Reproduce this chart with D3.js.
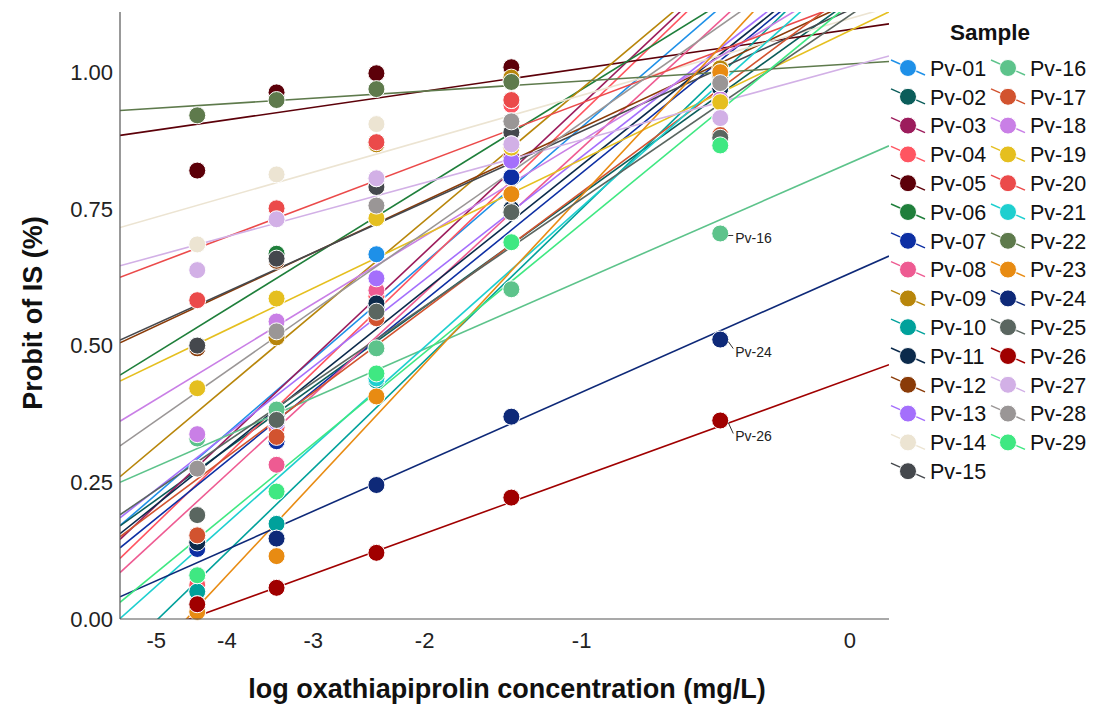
<!DOCTYPE html>
<html>
<head>
<meta charset="utf-8">
<script src="https://cdn.jsdelivr.net/npm/d3@7"></script>
<style>
  body { margin: 0; background: #fff; }
  text { font-family: "Liberation Sans", Arial, sans-serif; }
</style>
</head>
<body>
<div id="chart"></div>
<script>
// sample names and colours
const samples = ['Pv-01','Pv-02','Pv-03','Pv-04','Pv-05','Pv-06','Pv-07','Pv-08','Pv-09','Pv-10',
  'Pv-11','Pv-12','Pv-13','Pv-14','Pv-15','Pv-16','Pv-17','Pv-18','Pv-19','Pv-20',
  'Pv-21','Pv-22','Pv-23','Pv-24','Pv-25','Pv-26','Pv-27','Pv-28','Pv-29'];
const colors = ['#1e90e8','#0b5d5a','#9c1c5c','#ff5561','#5c0009','#1f7f3b','#0d2fa3','#ee5b92','#b8860b','#00a19b',
  '#0b2a4b','#8a3b08','#a46ffc','#ece4d2','#45484d','#5dc38b','#d2532f','#c97fe6','#e5bf1f','#eb4a4a',
  '#1ecfcf','#5e7a4c','#e88b12','#0e2978','#5a6660','#a00000','#d2b0e6','#9a9696','#3fe882'];

// tested concentrations (mg/L)
const concentrations = [0.00004, 0.0004, 0.004, 0.04, 0.4];

// observed probit values, one row per sample, one column per concentration
const probitValues = [
  [0.13, 0.36, 0.667, 0.808, 0.99],   // Pv-01
  [0.15, 0.37, 0.57, 0.808, 0.99],
  [0.15, 0.35, 0.58, 0.844, 0.99],
  [0.062, 0.35, 0.59, 0.94, 1.00],
  [0.82, 0.963, 0.998, 1.009, 1.00],  // Pv-05
  [0.50, 0.668, 0.872, 0.949, 1.00],
  [0.128, 0.325, 0.57, 0.808, 0.99],
  [0.142, 0.282, 0.601, 0.777, 0.99],
  [0.142, 0.515, 0.868, 0.99, 1.007],
  [0.05, 0.174, 0.436, 0.744, 0.97],  // Pv-10
  [0.14, 0.36, 0.577, 0.75, 0.97],
  [0.495, 0.655, 0.79, 0.89, 1.00],
  [0.153, 0.36, 0.623, 0.838, 0.99],
  [0.685, 0.813, 0.905, 0.91, 0.99],
  [0.50, 0.659, 0.79, 0.89, 0.98],    // Pv-15
  [0.33, 0.383, 0.495, 0.603, 0.705],
  [0.153, 0.333, 0.55, 0.777, 0.885],
  [0.338, 0.544, 0.806, 0.868, 0.95],
  [0.422, 0.586, 0.733, 0.862, 0.945],
  [0.583, 0.751, 0.872, 0.949, 0.98], // Pv-20
  [0.027, 0.147, 0.44, 0.744, 0.98],
  [0.921, 0.949, 0.969, 0.982, 0.995],
  [0.013, 0.115, 0.407, 0.777, 1.00],
  [0.08, 0.147, 0.245, 0.370, 0.511],
  [0.19, 0.364, 0.562, 0.744, 0.88],  // Pv-25
  [0.027, 0.057, 0.121, 0.222, 0.363],
  [0.638, 0.731, 0.806, 0.868, 0.916],
  [0.275, 0.526, 0.756, 0.910, 0.980],
  [0.08, 0.233, 0.449, 0.689, 0.866]
];

// fitted regression line: predicted value at log concentration -5 and at 0
const fitLow  = [0.228, 0.218, 0.208, 0.175, 0.894, 0.487, 0.184, 0.146, 0.316, -0.003,
  0.209, 0.536, 0.237, 0.735, 0.540, 0.279, 0.200, 0.402, 0.467, 0.650,
  0.060, 0.934, -0.059, 0.070, 0.236, -0.022, 0.664, 0.363, 0.085];
const fitHigh = [1.323, 1.130, 1.403, 1.398, 1.078, 1.272, 1.214, 1.312, 1.382, 1.225,
  1.222, 1.127, 1.229, 1.098, 1.114, 0.834, 1.147, 1.173, 1.076, 1.129,
  1.191, 1.015, 1.300, 0.632, 1.104, 0.439, 1.010, 1.251, 1.125];

// samples labelled at the highest concentration
const labelled = ['Pv-16', 'Pv-24', 'Pv-26'];

const xTicks = [-5, -4, -3, -2, -1, 0];
const yTicks = [0, 0.25, 0.5, 0.75, 1];
const xDomain = [-5.59, 0.096];
const yDomain = [0, 1.11];

const width = 1094, height = 709;
const plot = { left: 120, right: 889, top: 12, bottom: 619 };

const svg = d3.select('#chart').append('svg')
  .attr('width', width)
  .attr('height', height);

// x axis uses a compressed (log of 1 - x) spacing
const xLog = d3.scaleLog()
  .domain([1 - xDomain[0], 1 - xDomain[1]])
  .range([plot.left, plot.right]);
const x = v => xLog(1 - v);
const y = d3.scaleLinear().domain(yDomain).range([plot.bottom, plot.top]);

// fitted value along the line at a given log concentration
const fitAt = (i, v) => fitHigh[i] + (fitLow[i] - fitHigh[i]) * Math.log(1 - v) / Math.log(6);

svg.append('defs').append('clipPath').attr('id', 'clip')
  .append('rect')
  .attr('x', plot.left).attr('y', plot.top)
  .attr('width', plot.right - plot.left).attr('height', plot.bottom - plot.top);

const series = samples.map((name, i) => ({
  name,
  color: colors[i],
  points: concentrations.map((c, j) => ({ lx: Math.log10(c), v: probitValues[i][j] }))
}));

// regression lines
svg.append('g')
  .attr('clip-path', 'url(#clip)')
  .selectAll('line')
  .data(series)
  .enter()
  .append('line')
  .attr('x1', x(xDomain[0]))
  .attr('y1', (d, i) => y(fitAt(i, xDomain[0])))
  .attr('x2', x(xDomain[1]))
  .attr('y2', (d, i) => y(fitAt(i, xDomain[1])))
  .attr('stroke', d => d.color)
  .attr('stroke-width', 1.6);

// observed points
const pointLayer = svg.append('g');
series.forEach(s => {
  pointLayer.selectAll(null)
    .data(s.points)
    .enter()
    .append('circle')
    .attr('cx', d => x(d.lx))
    .attr('cy', d => y(d.v))
    .attr('r', 8.5)
    .attr('fill', s.color)
    .attr('stroke', '#fff')
    .attr('stroke-width', 1);
});

// labels for the low-response samples
const labelDy = { 'Pv-16': 5, 'Pv-24': 12, 'Pv-26': 16 };
series.filter(s => labelled.includes(s.name)).forEach(s => {
  const last = s.points[s.points.length - 1];
  const px = x(last.lx), py = y(last.v);
  svg.append('line')
    .attr('x1', px + 8).attr('y1', py + 2)
    .attr('x2', px + 13).attr('y2', py + labelDy[s.name] - 3)
    .attr('stroke', '#333').attr('stroke-width', 1);
  svg.append('text')
    .attr('x', px + 15)
    .attr('y', py + labelDy[s.name] + 5)
    .attr('font-size', 14)
    .attr('fill', '#222')
    .text(s.name);
});

// axes
svg.append('line')
  .attr('x1', plot.left).attr('x2', plot.left)
  .attr('y1', plot.top).attr('y2', plot.bottom)
  .attr('stroke', '#555').attr('stroke-width', 1.2);
svg.append('line')
  .attr('x1', plot.left).attr('x2', plot.right)
  .attr('y1', plot.bottom).attr('y2', plot.bottom)
  .attr('stroke', '#555').attr('stroke-width', 1.2);

svg.append('g').selectAll('text')
  .data(yTicks)
  .enter()
  .append('text')
  .attr('x', plot.left - 7)
  .attr('y', d => y(d))
  .attr('dy', '0.36em')
  .attr('text-anchor', 'end')
  .attr('font-size', 22)
  .attr('fill', '#222')
  .text(d => d3.format('.2f')(d));

svg.append('g').selectAll('text')
  .data(xTicks)
  .enter()
  .append('text')
  .attr('x', d => x(d))
  .attr('y', 648)
  .attr('text-anchor', 'middle')
  .attr('font-size', 22)
  .attr('fill', '#222')
  .text(d => d);

svg.append('text')
  .attr('x', 507).attr('y', 698)
  .attr('text-anchor', 'middle')
  .attr('font-size', 27)
  .attr('font-weight', 'bold')
  .attr('fill', '#111')
  .text('log oxathiapiprolin concentration (mg/L)');

svg.append('text')
  .attr('transform', 'translate(42,313) rotate(-90)')
  .attr('text-anchor', 'middle')
  .attr('font-size', 27)
  .attr('font-weight', 'bold')
  .attr('fill', '#111')
  .text('Probit of IS (%)');

// legend, two columns
const legend = svg.append('g');
legend.append('text')
  .attr('x', 990).attr('y', 40)
  .attr('text-anchor', 'middle')
  .attr('font-size', 22.5)
  .attr('font-weight', 'bold')
  .attr('fill', '#111')
  .text('Sample');

const item = legend.selectAll('g.item')
  .data(series)
  .enter()
  .append('g')
  .attr('class', 'item')
  .attr('transform', (d, i) => {
    const col = i < 15 ? 0 : 1;
    const row = i < 15 ? i : i - 15;
    return `translate(${908 + col * 100},${68 + row * 28.8})`;
  });

item.append('line')
  .attr('x1', -17).attr('y1', -8)
  .attr('x2', 17).attr('y2', 7)
  .attr('stroke', d => d.color)
  .attr('stroke-width', 1.4);
item.append('circle')
  .attr('r', 8.5)
  .attr('fill', d => d.color)
  .attr('stroke', '#fff')
  .attr('stroke-width', 1);
item.append('text')
  .attr('x', 22)
  .attr('dy', '0.36em')
  .attr('font-size', 21.5)
  .attr('fill', '#111')
  .text(d => d.name);
</script>
</body>
</html>
